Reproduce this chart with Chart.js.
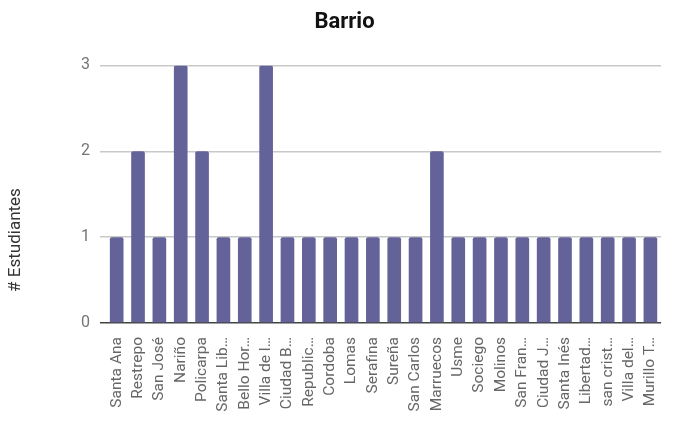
<!DOCTYPE html>
<html><head><meta charset="utf-8">
<script src="https://cdn.jsdelivr.net/npm/chart.js@4/dist/chart.umd.min.js"></script>
<style>html,body{margin:0;padding:0;background:#fff}#wrap{width:675px;height:421px}</style>
</head><body><div id="wrap"><canvas id="c" width="675" height="421"></canvas></div>
<script>
const categories = ["Santa Ana","Restrepo","San José","Nariño","Policarpa","Santa Lib…","Bello Hor…","Villa de l…","Ciudad B…","Republic…","Cordoba","Lomas","Serafina","Sureña","San Carlos","Marruecos","Usme","Sociego","Molinos","San Fran…","Ciudad J…","Santa Inés","Libertad…","san crist…","Villa del…","Murillo T…"];
const values = [1,2,1,3,2,1,1,3,1,1,1,1,1,1,1,2,1,1,1,1,1,1,1,1,1,1];
const yTickValues = [0,1,2,3];
const chartTitle = "Barrio";
const yAxisTitle = "# Estudiantes";

const yTitlePlugin = {
  id: 'yTitle',
  afterDraw(chart) {
    const ctx = chart.ctx;
    ctx.save();
    ctx.translate(16, 240);
    ctx.rotate(-Math.PI / 2);
    ctx.textAlign = 'center';
    ctx.textBaseline = 'middle';
    ctx.font = '17px Roboto';
    ctx.fillStyle = '#333';
    ctx.fillText(yAxisTitle, 0, 0);
    ctx.restore();
  }
};

new Chart(document.getElementById('c'), {
  type: 'bar',
  data: {
    labels: categories,
    datasets: [{
      data: values,
      backgroundColor: '#63639a',
      borderRadius: {topLeft: 2, topRight: 2},
      borderSkipped: 'bottom',
      categoryPercentage: 1.0,
      barPercentage: 0.64
    }]
  },
  options: {
    responsive: false,
    animation: false,
    devicePixelRatio: 1,
    layout: {padding: {left: 14, right: 0, top: 0, bottom: 0}},
    plugins: {
      legend: {display: false},
      tooltip: {enabled: false},
      title: {
        display: true,
        text: chartTitle,
        color: '#111',
        font: {family: 'Roboto', size: 22, weight: 'bold'},
        padding: {top: 9, bottom: 30}
      }
    },
    scales: {
      x: {
        grid: {display: false},
        border: {display: false},
        ticks: {
          color: '#666',
          font: {family: 'Roboto', size: 15.5},
          maxRotation: 90, minRotation: 90,
          autoSkip: false,
          padding: 6
        },
        afterFit(scale) { scale.height = 98; }
      },
      y: {
        min: 0, max: 3,
        afterBuildTicks(scale) { scale.ticks = yTickValues.map(v => ({value: v})); },
        grid: {
          color: ctx => ctx.tick && ctx.tick.value === 0 ? '#444' : '#c8c8c8',
          lineWidth: 1.5,
          tickLength: 6,
          drawTicks: true
        },
        border: {display: false},
        ticks: {
          color: '#757575',
          font: {family: 'Roboto', size: 16},
          padding: 10
        },
        afterFit(scale) { scale.width = 92; }
      }
    }
  },
  plugins: [yTitlePlugin]
});
</script></body></html>
